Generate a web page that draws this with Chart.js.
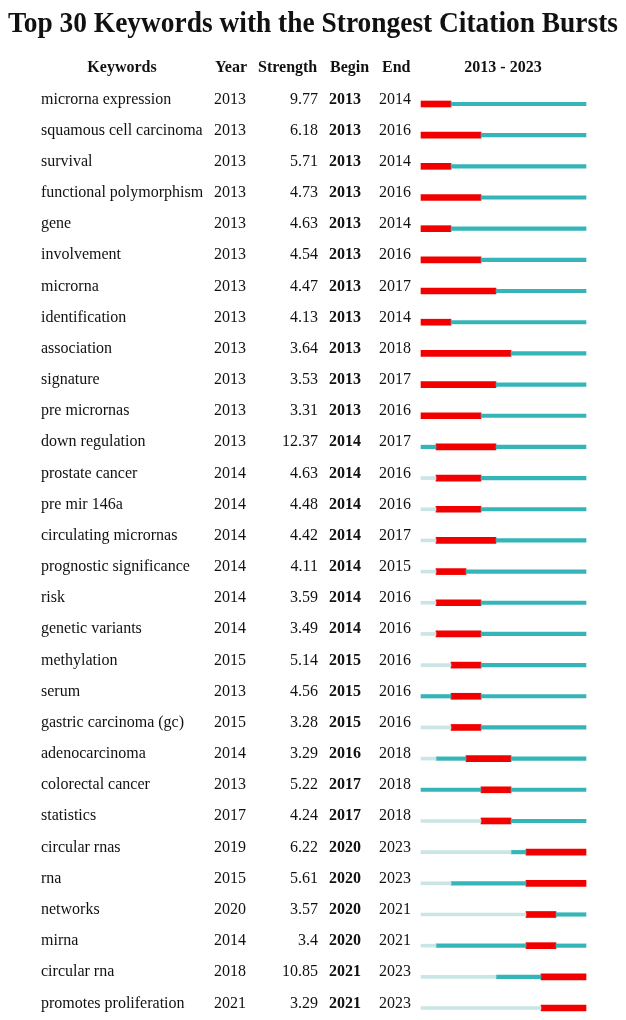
<!DOCTYPE html>
<html>
<head>
<meta charset="utf-8">
<script src="https://cdn.jsdelivr.net/npm/chart.js@4"></script>
<style>
  body { margin: 0; background: #fff; }
  canvas { display: block; }
</style>
</head>
<body>
<canvas id="burstChart" width="626" height="1020"></canvas>
<script>
const keywords = ["microrna expression", "squamous cell carcinoma", "survival", "functional polymorphism", "gene",
  "involvement", "microrna", "identification", "association", "signature", "pre micrornas", "down regulation",
  "prostate cancer", "pre mir 146a", "circulating micrornas", "prognostic significance", "risk", "genetic variants",
  "methylation", "serum", "gastric carcinoma (gc)", "adenocarcinoma", "colorectal cancer", "statistics",
  "circular rnas", "rna", "networks", "mirna", "circular rna", "promotes proliferation"];
const years = [2013, 2013, 2013, 2013, 2013, 2013, 2013, 2013, 2013, 2013, 2013, 2013, 2014, 2014, 2014,
  2014, 2014, 2014, 2015, 2013, 2015, 2014, 2013, 2017, 2019, 2015, 2020, 2014, 2018, 2021];
const strengths = ["9.77", "6.18", "5.71", "4.73", "4.63", "4.54", "4.47", "4.13", "3.64", "3.53", "3.31", "12.37",
  "4.63", "4.48", "4.42", "4.11", "3.59", "3.49", "5.14", "4.56", "3.28", "3.29", "5.22", "4.24", "6.22", "5.61",
  "3.57", "3.4", "10.85", "3.29"];
const begins = [2013, 2013, 2013, 2013, 2013, 2013, 2013, 2013, 2013, 2013, 2013, 2014, 2014, 2014, 2014, 2014,
  2014, 2014, 2015, 2015, 2015, 2016, 2017, 2017, 2020, 2020, 2020, 2020, 2021, 2021];
const ends = [2014, 2016, 2014, 2016, 2014, 2016, 2017, 2014, 2018, 2017, 2016, 2017, 2016, 2016, 2017, 2015,
  2016, 2016, 2016, 2016, 2016, 2018, 2018, 2018, 2023, 2023, 2021, 2021, 2023, 2023];
const firstYear = 2013;
const lastYear = 2023;

// segments per row: before the keyword appeared, cited, burst, after the burst
const lightData = years.map(y => y > firstYear ? [firstYear, y] : null);
const tealBefore = years.map((y, i) => begins[i] > y ? [y, begins[i]] : null);
const burstData = begins.map((b, i) => [b, ends[i] + 1]);
const tealAfter = ends.map(e => e < lastYear ? [e + 1, lastYear + 1] : null);

const tablePlugin = {
  id: "burstTable",
  afterDraw(chart) {
    const ctx = chart.ctx;
    const yScale = chart.scales.y;
    ctx.save();
    ctx.fillStyle = "#111";

    // title, squeezed to the width of the original
    const title = "Top 30 Keywords with the Strongest Citation Bursts";
    ctx.font = "bold 29px 'Liberation Serif'";
    const w = ctx.measureText(title).width;
    ctx.save();
    ctx.translate(313, 32);
    ctx.scale(610 / w, 1);
    ctx.textAlign = "center";
    ctx.fillText(title, 0, 0);
    ctx.restore();

    ctx.font = "bold 16px 'Liberation Serif'";
    ctx.textAlign = "center";
    ctx.fillText("Keywords", 122, 72);
    ctx.fillText(firstYear + " - " + lastYear, 503, 72);
    ctx.textAlign = "left";
    ctx.fillText("Year", 215, 72);
    ctx.fillText("Strength", 258, 72);
    ctx.fillText("Begin", 330, 72);
    ctx.fillText("End", 382, 72);

    keywords.forEach((k, i) => {
      const y = yScale.getPixelForValue(i) - 0.5;
      ctx.font = "16px 'Liberation Serif'";
      ctx.textAlign = "left";
      ctx.fillText(k, 41, y);
      ctx.fillText(String(years[i]), 214, y);
      ctx.fillText(String(ends[i]), 379, y);
      ctx.textAlign = "right";
      ctx.fillText(strengths[i], 318, y);
      ctx.textAlign = "left";
      ctx.font = "bold 16px 'Liberation Serif'";
      ctx.fillText(String(begins[i]), 329, y);
    });
    ctx.restore();
  }
};

new Chart(document.getElementById("burstChart"), {
  type: "bar",
  data: {
    labels: keywords,
    datasets: [
      { label: "light", data: lightData, backgroundColor: "#c9e5e6", barThickness: 3, grouped: false, clip: false },
      { label: "before", data: tealBefore, backgroundColor: "#35b5b8", barThickness: 3.5, grouped: false, clip: false },
      { label: "after", data: tealAfter, backgroundColor: "#35b5b8", barThickness: 3.5, grouped: false, clip: false },
      { label: "burst", data: burstData, backgroundColor: "#f20000", barThickness: 6, grouped: false, clip: false }
    ]
  },
  options: {
    indexAxis: "y",
    responsive: false,
    animation: false,
    layout: { padding: { top: 104, bottom: 12, left: 421, right: 40 } },
    scales: {
      x: { type: "linear", min: firstYear, max: lastYear + 1, display: false },
      y: { type: "category", offset: false, display: false }
    },
    plugins: {
      legend: { display: false },
      tooltip: { enabled: false }
    }
  },
  plugins: [tablePlugin]
});
</script>
</body>
</html>
